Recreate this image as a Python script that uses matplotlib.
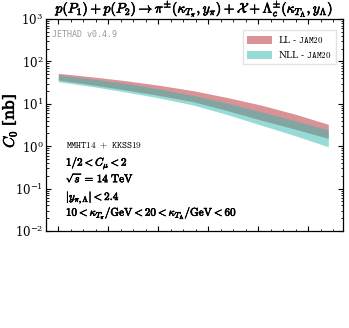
import numpy as np
import matplotlib
matplotlib.use("Agg")
import matplotlib.pyplot as plt
import matplotlib.patheffects as pe
from matplotlib.ticker import LogLocator, MultipleLocator, NullFormatter

plt.rcParams['mathtext.fontset'] = 'cm'
plt.rcParams['font.family'] = 'serif'
plt.rcParams['font.serif'] = ['DejaVu Serif']

# rapidity-like abscissa (no tick labels in the reference)
dy = [0.0, 0.675, 1.35, 2.025, 2.7, 3.375, 4.05, 4.725, 5.4]

# LL - JAM20 band [nb]
ll_hi = [52.4, 43.3, 35.1, 27.3, 20.4, 14.1, 9.37, 5.75, 3.29]
ll_lo = [36.4, 28.1, 21.2, 15.7, 11.2, 6.95, 4.15, 2.55, 1.53]

# NLL - JAM20 band [nb]
nll_hi = [47.8, 38.5, 30.4, 22.3, 15.7, 10.4, 6.51, 4.04, 2.41]
nll_lo = [33.2, 25.6, 19.0, 13.7, 9.37, 5.60, 3.16, 1.79, 0.97]

bold = [pe.withStroke(linewidth=0.45, foreground='black')]

fig = plt.figure(figsize=(3.49, 3.28), dpi=100)
ax = fig.add_axes([0.1318, 0.2957, 0.851, 0.6463])

ax.fill_between(dy, ll_lo, ll_hi, color='#c04a50', alpha=0.6, lw=0,
                label=r'LL - $\mathtt{JAM20}$')
ax.fill_between(dy, nll_lo, nll_hi, color='#2fb8ac', alpha=0.5, lw=0,
                label=r'NLL - $\mathtt{JAM20}$')

ax.set_yscale('log')
ax.set_ylim(1e-2, 1e3)
ax.set_xlim(-0.246, 5.694)

ax.xaxis.set_major_locator(MultipleLocator(1))
ax.xaxis.set_minor_locator(MultipleLocator(0.25))
ax.xaxis.set_major_formatter(NullFormatter())
ax.yaxis.set_major_locator(LogLocator(base=10, numticks=10))
ax.yaxis.set_minor_locator(LogLocator(base=10, subs=np.arange(2, 10), numticks=20))
ax.yaxis.set_minor_formatter(NullFormatter())
ax.tick_params(which='both', direction='in', top=True, right=True, labelsize=8.5, pad=2)
ax.tick_params(which='major', length=3.5)
ax.tick_params(which='minor', length=1.8)
for s in ax.spines.values():
    s.set_linewidth(0.9)

ax.set_ylabel(r'$C_0$ [nb]', fontsize=11, path_effects=bold)
ax.yaxis.set_label_coords(-0.093, 0.52)
ax.set_title(r'$p(P_1) + p(P_2) \to \pi^{\pm}(\kappa_{T_\pi}, y_\pi) + \mathcal{X} + \Lambda_c^{\pm}(\kappa_{T_\Lambda}, y_\Lambda)$',
             fontsize=10, pad=0.6, path_effects=bold)

ax.text(0.02, 0.929, 'JETHAD v0.4.9', transform=ax.transAxes, fontsize=6,
        family='monospace', color='#999999', va='center')

leg = ax.legend(loc='upper right', fontsize=6.5, frameon=True, fancybox=False,
                edgecolor='#dddddd', handlelength=2.7, handleheight=0.9,
                borderpad=0.45, labelspacing=0.45, handletextpad=0.7,
                bbox_to_anchor=(0.99, 0.97))

ax.text(0.067, 0.401, r'$\mathtt{MMHT14\ +\ KKSS19}$', transform=ax.transAxes, fontsize=6.8, va='center')
ax.text(0.067, 0.322, r'$1/2 < C_\mu < 2$', transform=ax.transAxes, fontsize=8, va='center', path_effects=bold)
ax.text(0.067, 0.253, r'$\sqrt{s}\,=\,14\ \mathrm{TeV}$', transform=ax.transAxes, fontsize=8, va='center', path_effects=bold)
ax.text(0.067, 0.156, r'$|y_{\pi,\Lambda}| < 2.4$', transform=ax.transAxes, fontsize=8, va='center', path_effects=bold)
ax.text(0.067, 0.085, r'$10 < \kappa_{T_\pi}/\mathrm{GeV} < 20 < \kappa_{T_\Lambda}/\mathrm{GeV} < 60$',
        transform=ax.transAxes, fontsize=8, va='center', path_effects=bold)

fig.savefig('out.png', dpi=100)
